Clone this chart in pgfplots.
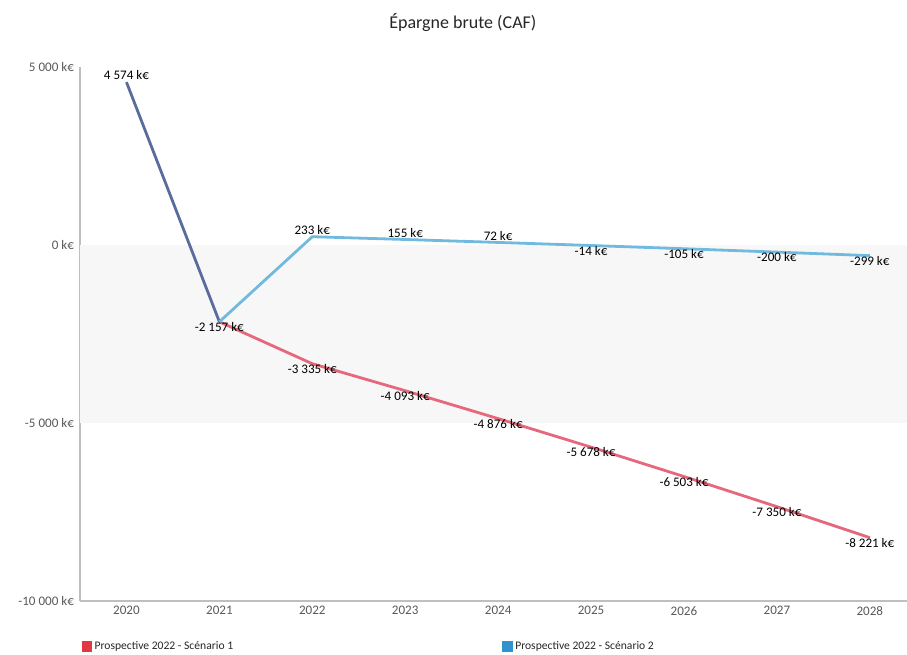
\documentclass[border=0pt]{standalone}
\usepackage{pgfplots}
\pgfplotsset{compat=1.18}
\usepackage{fontspec}
\setmainfont{Carlito}
\definecolor{histo}{HTML}{5A6C9E}
\definecolor{scenA}{HTML}{E6687C}
\definecolor{scenB}{HTML}{72B9DE}
\definecolor{legA}{HTML}{E03A40}
\definecolor{legB}{HTML}{3291CF}
\definecolor{band}{HTML}{F7F7F7}
\definecolor{ticktxt}{HTML}{595959}
\definecolor{axline}{HTML}{BFBFBF}
\begin{document}
\begin{tikzpicture}
\path[use as bounding box] (-60pt,-39.75pt) rectangle (620.25pt,450.75pt);
\begin{axis}[
  scale only axis,
  width=620.25pt, height=400.5pt,
  at={(0,0)}, anchor=south west,
  xmin=-0.5, xmax=8.4,
  ymin=-10000, ymax=5000,
  scaled y ticks=false,
  clip=false,
  axis x line*=bottom, axis y line*=left,
  axis line style={-, draw=axline, line width=0.8pt},
  major tick length=0pt,
  xtick={0,1,2,3,4,5,6,7,8},
  xticklabels={2020,2021,2022,2023,2024,2025,2026,2027,2028},
  ytick={-10000,-5000,0,5000},
  yticklabels={-10 000 k€,-5 000 k€,0 k€,5 000 k€},
  ticklabel style={font=\fontsize{9.8}{11}\selectfont, text=ticktxt},
  yticklabel style={xshift=-1pt},
  xticklabel style={yshift=-0.5pt},
  title={Épargne brute (CAF)},
  title style={at={(0.463,1.084)}, anchor=center, yshift=-6pt, font=\fontsize{13.5}{15}\selectfont, text=black!85},
  legend style={at={(-0.003,-0.065)}, anchor=north west, draw=none, fill=none,
    font=\fontsize{8.7}{10}\selectfont, text=black!85,
    /tikz/column 2/.style={column sep=200pt}},
  legend columns=2,
  legend cell align=left,
  every node near coord/.append style={font=\fontsize{9.8}{11}\selectfont, text=black, anchor=center, yshift={ifthenelse(\rawy>0,5pt,-3.8pt)}},
  visualization depends on={rawy \as \rawy},
]
\addplot[fill=band, draw=none, forget plot] coordinates {(-0.5,0) (8.4,0) (8.4,-5000) (-0.5,-5000)} -- cycle;
\addplot[color=histo, line width=2.1pt, forget plot] coordinates {(0,4574) (1,-2157)};
\addplot[color=scenA, line width=2.1pt, forget plot, nodes near coords={\pgfplotspointmeta}, point meta=explicit symbolic] coordinates {
 (1,-2157) [-2 157 k€]
 (2,-3335) [-3 335 k€]
 (3,-4093) [-4 093 k€]
 (4,-4876) [-4 876 k€]
 (5,-5678) [-5 678 k€]
 (6,-6503) [-6 503 k€]
 (7,-7350) [-7 350 k€]
 (8,-8221) [-8 221 k€]
};
\addplot[color=scenB, line width=2.1pt, forget plot, nodes near coords={\pgfplotspointmeta}, point meta=explicit symbolic] coordinates {
 (1,-2157) []
 (2,233) [233 k€]
 (3,155) [155 k€]
 (4,72) [72 k€]
 (5,-14) [-14 k€]
 (6,-105) [-105 k€]
 (7,-200) [-200 k€]
 (8,-299) [-299 k€]
};
\addplot[draw=none, forget plot, nodes near coords={\pgfplotspointmeta}, point meta=explicit symbolic] coordinates {(0,4574) [4 574 k€]};
\addlegendimage{legend image code/.code={\fill[legA] (0pt,-3.6pt) rectangle (7.2pt,3.6pt);}}
\addlegendentry{Prospective 2022 - Scénario 1}
\addlegendimage{legend image code/.code={\fill[legB] (0pt,-3.6pt) rectangle (7.2pt,3.6pt);}}
\addlegendentry{Prospective 2022 - Scénario 2}
\end{axis}
\end{tikzpicture}
\end{document}
